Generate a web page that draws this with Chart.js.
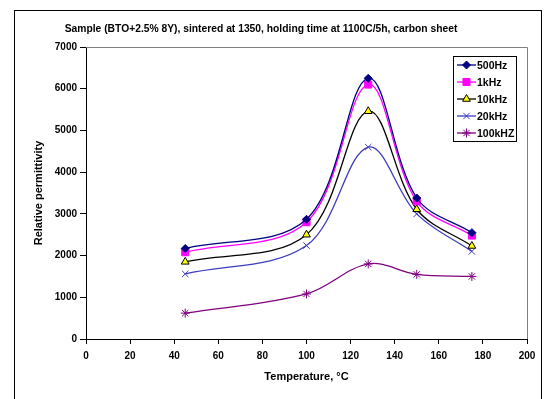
<!DOCTYPE html>
<html>
<head>
<meta charset="utf-8">
<title>Relative permittivity vs temperature</title>
<script src="https://cdn.jsdelivr.net/npm/chart.js@4/dist/chart.umd.min.js"></script>
<style>
  html, body { margin: 0; padding: 0; background: #fff; }
  #chart { display: block; }
</style>
</head>
<body>
<canvas id="chart" width="547" height="399"></canvas>
<script>
// Measurement temperatures (°C)
const temperature = [45, 100, 128, 150, 175];

// Relative permittivity per frequency
const eps500Hz  = [2170, 2870, 6250, 3380, 2550];
const eps1kHz   = [2080, 2800, 6100, 3300, 2480];
const eps10kHz  = [1850, 2500, 5460, 3110, 2230];
const eps20kHz  = [1560, 2240, 4600, 3000, 2100];
const eps100kHz = [620, 1080, 1800, 1550, 1500];

const seriesLabels = ['500Hz', '1kHz', '10kHz', '20kHz', '100kHZ'];

const chartTitle = 'Sample (BTO+2.5% 8Y), sintered at 1350, holding time at 1100C/5h, carbon sheet';

Chart.defaults.font.family = '"Liberation Sans", Arial, sans-serif';
Chart.defaults.color = '#000';

function toPoints(values) {
  return values.map((v, i) => ({ x: temperature[i], y: v }));
}

function series(label, values, color, style) {
  return Object.assign({
    label: label,
    data: toPoints(values),
    borderColor: color,
    backgroundColor: color,
    pointBackgroundColor: color,
    pointBorderColor: color,
    borderWidth: 1.3,
    pointBorderWidth: 1,
    pointRadius: 4,
    tension: 0.35
  }, style);
}

const datasets = [
  series(seriesLabels[0], eps500Hz, '#000080', { pointStyle: 'rectRot', pointRadius: 4 }),
  series(seriesLabels[1], eps1kHz, '#ff00ff', { pointStyle: 'rect', pointRadius: 5 }),
  series(seriesLabels[2], eps10kHz, '#000000', {
    pointStyle: 'triangle', pointRadius: 4.5, pointBackgroundColor: '#ffff00'
  }),
  series(seriesLabels[3], eps20kHz, '#3c3cc0', { pointStyle: 'crossRot', pointRadius: 4.5 }),
  series(seriesLabels[4], eps100kHz, '#800080', { pointStyle: 'star', pointRadius: 4.5 })
];

// Frame, title, plot border and legend box
const decorations = {
  id: 'decorations',
  beforeDraw(chart) {
    const ctx = chart.ctx;
    ctx.save();
    ctx.fillStyle = '#fff';
    ctx.fillRect(0, 0, chart.width, chart.height);
    ctx.restore();
  },
  afterDraw(chart) {
    const ctx = chart.ctx;
    const area = chart.chartArea;
    ctx.save();

    // outer frame
    ctx.strokeStyle = '#000';
    ctx.lineWidth = 1;
    ctx.strokeRect(14.5, 10.5, 527, 420);

    // top and right edges of the plot area
    ctx.strokeStyle = '#808080';
    ctx.beginPath();
    ctx.moveTo(area.left, Math.round(area.top) + 0.5);
    ctx.lineTo(Math.round(area.right) + 0.5, Math.round(area.top) + 0.5);
    ctx.lineTo(Math.round(area.right) + 0.5, area.bottom);
    ctx.stroke();

    // title
    ctx.fillStyle = '#000';
    ctx.font = 'bold 10.3px "Liberation Sans", Arial, sans-serif';
    ctx.textAlign = 'center';
    ctx.textBaseline = 'middle';
    ctx.fillText(chartTitle, 261, 29);

    // legend
    const box = { x: 453.5, y: 56.5, w: 63, h: 85 };
    ctx.fillStyle = '#fff';
    ctx.fillRect(box.x, box.y, box.w, box.h);
    ctx.strokeStyle = '#000';
    ctx.strokeRect(box.x, box.y, box.w, box.h);
    ctx.font = 'bold 10.5px "Liberation Sans", Arial, sans-serif';
    ctx.textAlign = 'left';
    chart.data.datasets.forEach((ds, i) => {
      const y = 65 + i * 17;
      ctx.strokeStyle = ds.borderColor;
      ctx.lineWidth = ds.borderWidth;
      ctx.beginPath();
      ctx.moveTo(457, y);
      ctx.lineTo(476, y);
      ctx.stroke();
      ctx.fillStyle = ds.pointBackgroundColor;
      ctx.strokeStyle = ds.pointBorderColor;
      ctx.lineWidth = ds.pointBorderWidth;
      Chart.helpers.drawPoint(ctx, {
        pointStyle: ds.pointStyle,
        radius: ds.pointRadius,
        rotation: 0,
        borderWidth: ds.pointBorderWidth
      }, 466.5, y);
      ctx.fillStyle = '#000';
      ctx.fillText(ds.label, 477, y + 1);
    });

    ctx.restore();
  }
};

new Chart(document.getElementById('chart'), {
  type: 'line',
  data: { datasets: datasets },
  options: {
    responsive: false,
    animation: false,
    layout: { padding: { left: 28, right: 20, top: 47, bottom: 10 } },
    plugins: {
      legend: { display: false },
      title: { display: false },
      tooltip: { enabled: false }
    },
    scales: {
      x: {
        type: 'linear',
        min: 0,
        max: 200,
        afterFit(scale) { scale.height = 50; },
        ticks: {
          stepSize: 20,
          padding: 6,
          font: { size: 10, weight: 'bold' },
          callback: (v) => String(v)
        },
        grid: { drawOnChartArea: false, color: '#000', tickLength: 5 },
        border: { color: '#000', width: 1 },
        title: {
          display: true,
          text: 'Temperature, °C',
          font: { size: 11, weight: 'bold' },
          padding: { top: 4, bottom: 5 }
        }
      },
      y: {
        min: 0,
        max: 7000,
        afterFit(scale) { scale.width = 58; },
        ticks: {
          stepSize: 1000,
          padding: 3,
          font: { size: 10, weight: 'bold' },
          callback: (v) => String(v)
        },
        grid: { drawOnChartArea: false, color: '#000', tickLength: 6 },
        border: { color: '#000', width: 1 },
        title: {
          display: true,
          text: 'Relative permittivity',
          font: { size: 11, weight: 'bold' },
          padding: { top: 4, bottom: 4 }
        }
      }
    }
  },
  plugins: [decorations]
});
</script>
</body>
</html>
